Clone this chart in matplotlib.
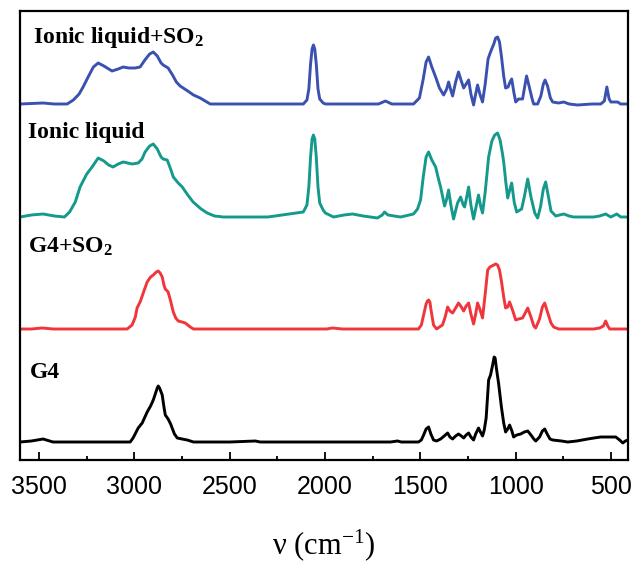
import matplotlib
matplotlib.use("Agg")
import matplotlib.pyplot as plt
from matplotlib.ticker import MultipleLocator

plt.rcParams['mathtext.fontset'] = 'custom'
plt.rcParams['mathtext.rm'] = 'Liberation Serif'
plt.rcParams['mathtext.it'] = 'Liberation Serif:italic'
plt.rcParams['mathtext.bf'] = 'Liberation Serif:bold'

# ---------------- data (wavenumber cm^-1, absorbance a.u.) ----------------
labels = ["Ionic liquid+SO$_\\mathbf{2}$", "Ionic liquid", "G4+SO$_\\mathbf{2}$", "G4"]
offsets = [356, 243, 131, 18]
colors = ["#3B51B0", "#15998D", "#F0363C", "#000000"]

wn_il_so2 = [3600, 3540, 3479, 3420, 3353, 3320, 3290, 3269, 3240, 3215, 3190, 3160, 3117, 3085,
             3059, 3030, 2996, 2970, 2945, 2920, 2901, 2880, 2860, 2849, 2823, 2800, 2780, 2760,
             2720, 2690, 2655, 2620, 2602, 2400, 2114, 2095, 2085, 2076, 2068, 2061, 2054, 2046,
             2037, 2028, 2010, 1998, 1720, 1683, 1650, 1536, 1505, 1485, 1470, 1457, 1440, 1420,
             1400, 1378, 1362, 1352, 1342, 1331, 1315, 1300, 1287, 1273, 1260, 1247, 1235, 1221,
             1210, 1200, 1188, 1174, 1160, 1145, 1132, 1115, 1105, 1095, 1085, 1075, 1063, 1053,
             1040, 1030, 1021, 1010, 1000, 985, 964, 955, 943, 930, 915, 906, 885, 868, 855, 846,
             833, 818, 806, 775, 748, 720, 675, 600, 554, 535, 522, 510, 501, 480, 465, 450, 410]
ab_il_so2 = [0, 0.5, 1, 0, 0, 4, 10, 17, 28, 37, 41, 38, 33, 35,
             37, 36, 36, 37, 44, 50, 52, 48, 41, 39, 36, 29, 22, 18,
             13, 9, 6, 2, 0, 0, 0, 4, 15, 40, 55, 59, 55, 40,
             15, 5, 1, 0, 0, 3, 0, 0, 6, 25, 42, 47, 37, 27,
             16, 9, 15, 22, 15, 8, 22, 32, 24, 16, 20, 24, 10, -1,
             10, 19, 10, 2, 20, 45, 52, 60, 66, 67, 62, 48, 28, 16,
             17, 22, 25, 12, 2, 5, 5, 15, 28, 18, 6, 0, 0, 8, 20, 24,
             18, 6, 2, 1, 2, 0, -1, 0, 0, 3, 17, 5, 2, 2, 2, 0, 0]

wn_il = [3600, 3540, 3479, 3420, 3367, 3340, 3310, 3285, 3250, 3222, 3190, 3160, 3135, 3112,
         3085, 3059, 3035, 3012, 2980, 2960, 2944, 2920, 2901, 2880, 2860, 2849, 2828, 2810,
         2796, 2770, 2749, 2720, 2692, 2650, 2618, 2580, 2534, 2300, 2114, 2095, 2085, 2076,
         2068, 2061, 2054, 2046, 2037, 2028, 2010, 1998, 1956, 1900, 1856, 1800, 1725, 1700,
         1688, 1670, 1604, 1536, 1515, 1499, 1485, 1470, 1457, 1440, 1420, 1405, 1394, 1373,
         1362, 1352, 1340, 1326, 1305, 1289, 1275, 1268, 1257, 1247, 1235, 1221, 1208, 1195,
         1183, 1174, 1160, 1142, 1125, 1110, 1095, 1082, 1070, 1063, 1052, 1042, 1030, 1021,
         1008, 995, 969, 955, 937, 920, 900, 885, 870, 855, 843, 830, 815, 790, 770, 748,
         720, 696, 591, 560, 528, 501, 470, 449, 410]
ab_il = [0, 2, 3, 1, 0, 5, 15, 30, 43, 50, 59, 56, 52, 50,
         53, 55, 54, 53, 54, 58, 65, 71, 73, 68, 60, 58, 57, 48,
         40, 34, 30, 22, 15, 8, 4, 1, 0, 0, 5, 12, 30, 60,
         78, 82, 78, 60, 30, 14, 7, 4, 0, 2, 3, 1, -1, 2,
         5, 2, 0, 3, 8, 17, 40, 60, 65, 57, 50, 38, 30, 11,
         18, 27, 12, -2, 14, 20, 12, 10, 20, 30, 12, -2, 10, 22,
         10, 4, 25, 60, 76, 82, 84, 77, 64, 55, 35, 19, 28, 34,
         15, 5, 8, 20, 38, 20, 4, -1, 10, 28, 35, 22, 6, 1, 2, 3,
         1, 0, 0, 1, 3, 0, 3, 0, 0]

wn_g4_so2 = [3600, 3540, 3484, 3426, 3100, 3038, 3012, 2995, 2986, 2970, 2950, 2933, 2915, 2901,
             2885, 2875, 2865, 2854, 2845, 2838, 2823, 2810, 2796, 2783, 2770, 2750, 2733, 2720,
             2707, 2690, 2300, 1991, 1961, 1909, 1510, 1495, 1483, 1470, 1463, 1457, 1450, 1445,
             1431, 1415, 1400, 1384, 1370, 1357, 1345, 1331, 1315, 1300, 1285, 1273, 1260, 1247,
             1235, 1221, 1210, 1200, 1188, 1174, 1160, 1147, 1135, 1125, 1105, 1095, 1085, 1075,
             1063, 1053, 1042, 1032, 1015, 1000, 985, 964, 950, 937, 920, 905, 895, 875, 860, 848,
             835, 815, 801, 775, 591, 560, 540, 528, 517, 507, 470, 410]
ab_g4_so2 = [0, 0, 1, 0, 0, 0, 4, 12, 21, 27, 38, 47, 52, 54,
             57, 58, 56, 52, 44, 40, 37, 28, 17, 11, 8, 7, 6, 4,
             2, 0, 0, 0, 1, 0, 0, 4, 14, 25, 28, 29, 27, 20,
             4, 0, 2, 4, 12, 22, 18, 16, 21, 26, 22, 18, 23, 26,
             15, 5, 15, 26, 20, 11, 35, 59, 62, 63, 65, 64, 59, 48,
             32, 21, 22, 27, 18, 9, 10, 11, 16, 21, 12, 3, 1, 10, 22, 26,
             18, 6, 2, 0, 0, 1, 3, 8, 3, 0, 0, 0]

wn_g4 = [3600, 3540, 3479, 3427, 3300, 3022, 3007, 2980, 2959, 2933, 2915, 2901, 2887, 2880,
         2875, 2868, 2864, 2854, 2845, 2838, 2823, 2810, 2802, 2790, 2775, 2750, 2723, 2690,
         2500, 2366, 2340, 1900, 1657, 1620, 1600, 1510, 1495, 1483, 1470, 1457, 1445, 1431,
         1415, 1394, 1375, 1357, 1345, 1331, 1315, 1300, 1285, 1273, 1260, 1247, 1235, 1221,
         1210, 1195, 1185, 1174, 1165, 1155, 1142, 1132, 1120, 1113, 1108, 1100, 1090, 1075,
         1063, 1053, 1042, 1032, 1020, 1011, 995, 974, 955, 937, 920, 905, 895, 875, 860, 848,
         835, 820, 806, 760, 727, 680, 622, 590, 554, 510, 475, 455, 438, 425, 410]
ab_g4 = [0, 1, 3, 0, 0, 0, 4, 14, 19, 30, 36, 42, 50, 54,
         56, 54, 52, 47, 35, 27, 23, 18, 14, 8, 4, 3, 2, 0,
         0, 1, 0, 0, 0, 1, 0, 0, 2, 7, 13, 15, 8, 2,
         1, 3, 6, 9, 5, 3, 6, 8, 6, 4, 7, 9, 5, 2,
         8, 14, 10, 6, 12, 24, 62, 67, 78, 85, 84, 72, 59, 35,
         19, 10, 13, 17, 11, 5, 7, 8, 10, 11, 7, 3, 1, 5, 11, 13,
         8, 3, 2, 1, 0, 1, 3, 4, 5, 5, 5, 2, -1, 1, 2]

wn_series = [wn_il_so2, wn_il, wn_g4_so2, wn_g4]
ab_series = [ab_il_so2, ab_il, ab_g4_so2, ab_g4]
xticks = [3500, 3000, 2500, 2000, 1500, 1000, 500]

# ---------------- figure ----------------
fig = plt.figure(figsize=(6.34, 5.62), dpi=100)
ax = fig.add_axes([20/634, 102/562, 608/634, 449/562])

label_pos = [(3532, 417), (3558, 322), (3558, 207), (3548, 82)]
for wn, ab, off, col, lab, (lx, ly) in zip(wn_series, ab_series, offsets, colors, labels, label_pos):
    ax.plot(wn, [a + off for a in ab], color=col, lw=2.1, solid_joinstyle='round')
    ax.text(lx, ly, lab, fontsize=17, fontweight='bold', family='Liberation Serif',
            ha='left', va='baseline')

ax.set_xlim(3600, 411)
ax.set_ylim(0, 449)
ax.set_yticks([])
ax.set_xticks(xticks)
ax.xaxis.set_minor_locator(MultipleLocator(250))
ax.tick_params(axis='x', which='major', direction='in', length=6, width=1.3,
               labelsize=18, pad=11, top=False)
ax.tick_params(axis='x', which='minor', direction='in', length=3, width=1.3, top=False)
for lab in ax.get_xticklabels():
    lab.set_family('Liberation Sans')
for s in ax.spines.values():
    s.set_linewidth(1.6)

ax.set_xlabel("ν (cm$^{-1}$)", fontsize=22, family='Liberation Serif', labelpad=20)

fig.savefig("out.png", dpi=100)
